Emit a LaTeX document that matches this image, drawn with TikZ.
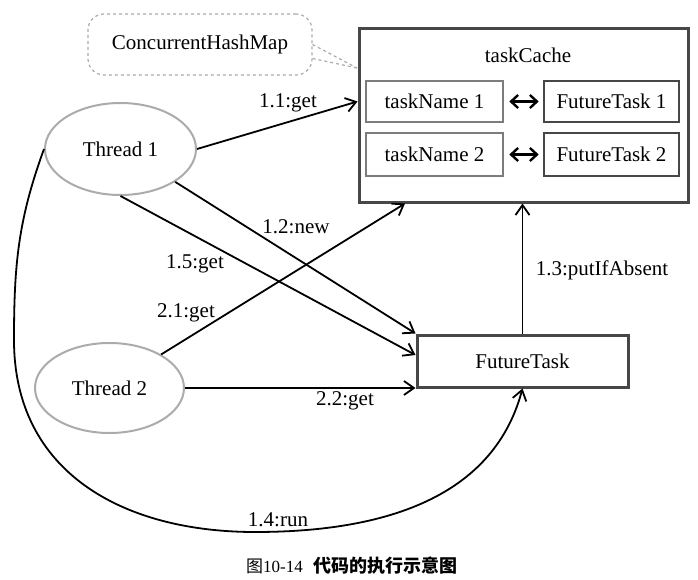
\documentclass[tikz,border=0pt]{standalone}
\usepackage{fontspec}
\setmainfont{Liberation Serif}
\newfontfamily\cjk{Noto Sans CJK SC}
\usetikzlibrary{shapes.geometric,arrows.meta}
\definecolor{darkline}{HTML}{474747}
\definecolor{midline}{HTML}{7C7C7C}
\definecolor{lightline}{HTML}{ABABAB}
\tikzset{
  txt/.style={font=\fontsize{21}{25}\selectfont, inner sep=0pt},
  darkbox/.style={txt, draw=darkline, line width=2.6pt, rectangle},
  namebox/.style={txt, draw=midline, line width=2.6pt, rectangle},
  threadnode/.style={txt, draw=lightline, line width=2pt, ellipse},
  callout/.style={draw=lightline, dashed, line width=1.2pt},
  arr/.style={draw, line width=1.8pt, -{Straight Barb[length=10pt,width=14pt]}},
  dblarr/.style={draw, line width=2.4pt, {Straight Barb[length=7pt,width=13pt]}-{Straight Barb[length=7pt,width=13pt]}},
  lbl/.style={txt}
}
\begin{document}
\begin{tikzpicture}[x=1pt,y=-1pt]
\useasboundingbox (0,0) rectangle (698,580);
% callout
\node[txt, callout, rounded corners=16pt, minimum width=224pt, minimum height=61pt] (cm) at (200,44.5) {ConcurrentHashMap};
% taskCache
\node[darkbox, line width=3pt, minimum width=329pt, minimum height=173pt] (tc) at (523.5,115.5) {};
\node[lbl] (tcl) at (528,55) {taskCache};
\node[namebox, minimum width=137pt, minimum height=41pt] (tn1) at (434.5,101.5) {taskName 1};
\node[darkbox, minimum width=135pt, minimum height=41pt] (ft1) at (611.5,101.5) {FutureTask 1};
\node[namebox, minimum width=137pt, minimum height=43pt] (tn2) at (434.5,154.5) {taskName 2};
\node[darkbox, minimum width=135pt, minimum height=43pt] (ft2) at (611.5,154.5) {FutureTask 2};
\draw[dblarr, shorten <=5pt, shorten >=4pt] (tn1.east) -- (ft1.west);
\draw[dblarr, shorten <=5pt, shorten >=4pt] (tn2.east) -- (ft2.west);
% callout pointer
\coordinate (ctip) at (357,68);
\draw[callout] (cm.east) -- (ctip);
\draw[callout] ([yshift=-14pt]cm.east) -- (ctip);
% threads
\node[threadnode, minimum width=151pt, minimum height=92pt] (t1) at (120.5,149) {Thread 1};
\node[threadnode, minimum width=149pt, minimum height=90pt] (t2) at (109.5,388) {Thread 2};
% FutureTask
\node[darkbox, line width=3pt, minimum width=211pt, minimum height=52pt] (ft) at (522.5,361) {FutureTask};
% connectors
\coordinate (tcin) at (tc.west |- tn1.west);
\draw[arr] (t1.east) -- (tcin);
\draw[arr] (t1.-31) -- (ft.north west);
\draw[arr] (t1.south) -- ([yshift=6pt]ft.west);
\coordinate (tcbot) at ([xshift=-118.5pt]tc.south);
\draw[arr] (t2.33) -- (tcbot);
\coordinate (ftin) at (t2.east -| ft.west);
\draw[arr] (t2.east) -- (ftin);
\coordinate (tcbot2) at (ft.north |- tc.south);
\draw[arr] (ft.north) -- (tcbot2);
\coordinate (c1) at (14,340);
\coordinate (c2) at (255,532);
\draw[arr] (t1.west) to[out=250,in=90] (c1) to[out=-90,in=180,looseness=1.1] (c2) to[out=0,in=-105] (ft.south);
% labels
\node[lbl] (l11) at (288,103) {1.1:get};
\node[lbl] (l12) at (296,227) {1.2:new};
\node[lbl] (l15) at (195,264) {1.5:get};
\node[lbl] (l21) at (186,313) {2.1:get};
\node[lbl] (l22) at (345,401) {2.2:get};
\node[lbl] (l13) at (602,270) {1.3:putIfAbsent};
\node[lbl] (l14) at (278,520) {1.4:run};
% caption
\node[inner sep=0pt, font=\fontsize{17}{20}\selectfont] (cap) at (352,566) {{\cjk 图}10-14\hspace{11pt}{\cjk\fontsize{18}{21}\selectfont\bfseries 代码的执行示意图}};
\end{tikzpicture}
\end{document}
